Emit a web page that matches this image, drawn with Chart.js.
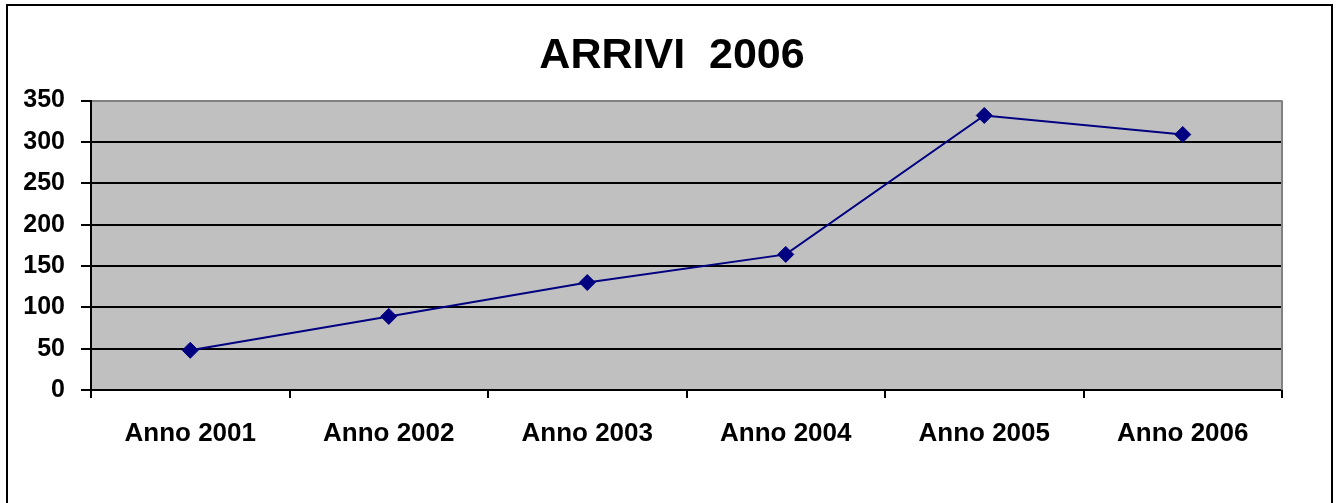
<!DOCTYPE html>
<html>
<head>
<meta charset="utf-8">
<script src="https://cdn.jsdelivr.net/npm/chart.js@4"></script>
<style>
  html, body { margin: 0; padding: 0; background: #fff; }
  #wrap { position: relative; width: 1337px; height: 503px; overflow: hidden; }
  #cornice { position: absolute; left: 6px; top: 4px; width: 1323px; height: 520px;
             border: 2px solid #000; border-bottom: none; }
  #grafico { position: absolute; left: 0; top: 0; }
</style>
</head>
<body>
<div id="wrap">
  <div id="cornice"></div>
  <canvas id="grafico" width="1337" height="503"></canvas>
</div>
<script>
// Dati
const anni = ['Anno 2001', 'Anno 2002', 'Anno 2003', 'Anno 2004', 'Anno 2005', 'Anno 2006'];
const arrivi = [48, 89, 130, 164, 332, 309];
const tickY = [0, 50, 100, 150, 200, 250, 300, 350];

const fontBase = 'Liberation Sans, Arial, sans-serif';

// Sfondo grigio dell'area del grafico e bordo destro grigio
const sfondoArea = {
    id: 'sfondoArea',
    beforeDraw(chart) {
        const a = chart.chartArea;
        const ctx = chart.ctx;
        ctx.save();
        ctx.fillStyle = '#C0C0C0';
        ctx.fillRect(a.left, a.top, a.right - a.left, a.bottom - a.top);
        ctx.restore();
    },
    beforeDatasetsDraw(chart) {
        const a = chart.chartArea;
        const ctx = chart.ctx;
        ctx.save();
        ctx.strokeStyle = '#808080';
        ctx.lineWidth = 2;
        ctx.beginPath();
        ctx.moveTo(a.right, a.top);
        ctx.lineTo(a.right, a.bottom);
        ctx.stroke();
        ctx.restore();
    }
};

const ctx = document.getElementById('grafico').getContext('2d');
new Chart(ctx, {
    type: 'line',
    data: {
        labels: anni,
        datasets: [{
            label: 'Arrivi',
            data: arrivi,
            borderColor: '#000080',
            backgroundColor: '#000080',
            borderWidth: 2,
            pointStyle: 'rectRot',
            pointRadius: 8,
            pointBorderWidth: 1,
            tension: 0
        }]
    },
    options: {
        responsive: false,
        animation: false,
        layout: { padding: { left: 7, right: 0, top: 0, bottom: 0 } },
        plugins: {
            legend: { display: false },
            tooltip: { enabled: false },
            title: {
                display: true,
                text: 'ARRIVI  2006',
                color: '#000',
                font: { family: fontBase, size: 43, weight: 'bold' },
                padding: { top: 30, bottom: 19 }
            }
        },
        scales: {
            x: {
                offset: true,
                grid: {
                    offset: true,
                    drawOnChartArea: false,
                    drawTicks: true,
                    tickLength: 8,
                    color: '#000',
                    lineWidth: 2
                },
                border: { color: '#000', width: 2 },
                ticks: {
                    color: '#000',
                    padding: 20,
                    maxRotation: 0,
                    font: { family: fontBase, size: 26, weight: 'bold' }
                },
                afterFit(scale) { scale.height = 113; }
            },
            y: {
                min: tickY[0],
                max: tickY[tickY.length - 1],
                afterBuildTicks(scale) { scale.ticks = tickY.map(v => ({ value: v })); },
                grid: {
                    color: c => (c.tick && c.tick.value === 350 ? '#808080' : '#000'),
                    tickColor: '#000',
                    lineWidth: 2,
                    tickLength: 10
                },
                border: { color: '#000', width: 2 },
                ticks: {
                    color: '#000',
                    padding: 16,
                    font: { family: fontBase, size: 25, weight: 'bold' }
                },
                afterFit(scale) { scale.width = 84; }
            },
            // asse vuoto a destra: solo per lasciare il margine
            margineDestro: {
                type: 'linear',
                position: 'right',
                grid: { display: false },
                border: { display: false },
                ticks: { display: false },
                afterFit(scale) { scale.width = 55; }
            }
        }
    },
    plugins: [sfondoArea]
});
</script>
</body>
</html>
